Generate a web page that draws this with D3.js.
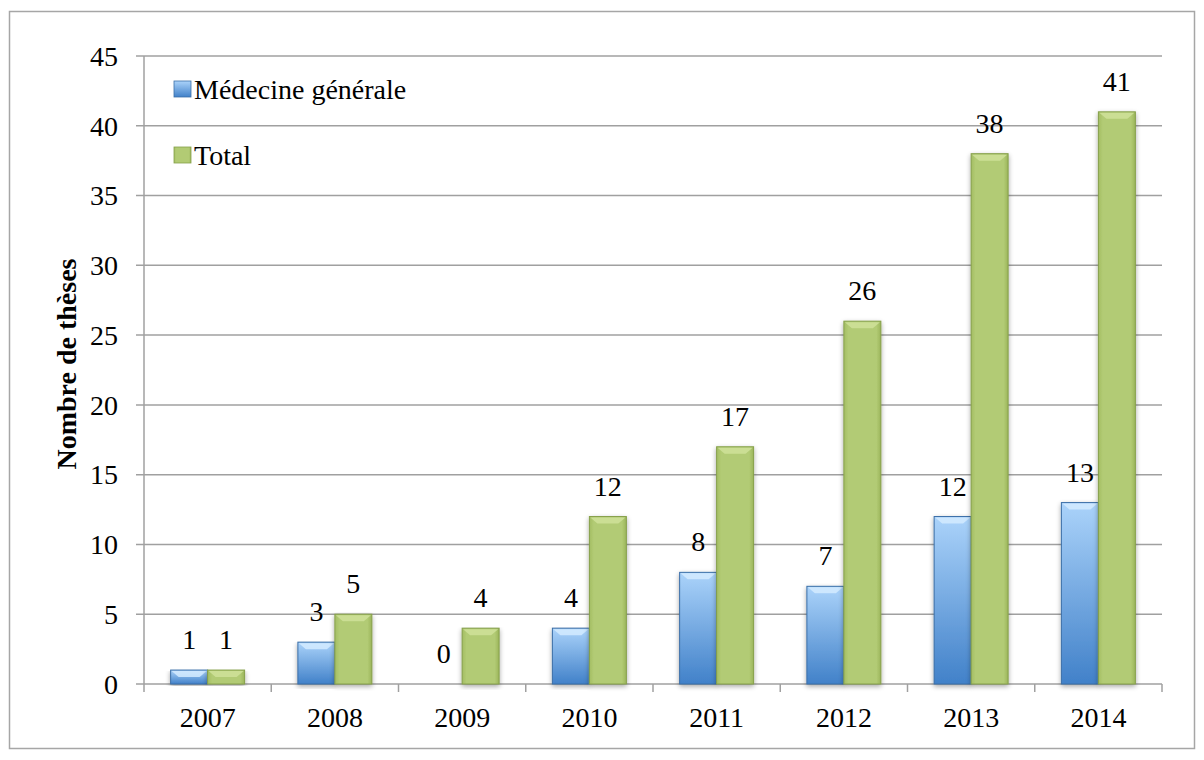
<!DOCTYPE html>
<html>
<head>
<meta charset="utf-8">
<script src="https://cdn.jsdelivr.net/npm/d3@7"></script>
<style>
  body { margin: 0; background: #fff; }
  svg { display: block; }
</style>
</head>
<body>
<div id="chart"></div>
<script>
// data
const years = ["2007", "2008", "2009", "2010", "2011", "2012", "2013", "2014"];
const series = ["Médecine générale", "Total"];
const medecineValues = [1, 3, 0, 4, 8, 7, 12, 13];
const totalValues = [1, 5, 4, 12, 17, 26, 38, 41];
const yTicks = [0, 5, 10, 15, 20, 25, 30, 35, 40, 45];

const width = 1204;
const height = 760;
const margin = { top: 56, right: 42, bottom: 76, left: 144 };
const font = "'Liberation Serif', 'Times New Roman', serif";
const fontSize = "28px";

const svg = d3.select("#chart")
    .append("svg")
    .attr("width", width)
    .attr("height", height);

const defs = svg.append("defs");

// gradients for the bars (Excel style)
const blueGrad = defs.append("linearGradient")
    .attr("id", "blueGrad")
    .attr("x1", 0).attr("y1", 0).attr("x2", 0).attr("y2", 1);
blueGrad.append("stop").attr("offset", "0%").attr("stop-color", "#abd3fa");
blueGrad.append("stop").attr("offset", "100%").attr("stop-color", "#4181c9");

const greenGrad = defs.append("linearGradient")
    .attr("id", "greenGrad")
    .attr("x1", 0).attr("y1", 0).attr("x2", 1).attr("y2", 0);
greenGrad.append("stop").attr("offset", "0%").attr("stop-color", "#a3bd63");
greenGrad.append("stop").attr("offset", "12%").attr("stop-color", "#b2cb74");
greenGrad.append("stop").attr("offset", "88%").attr("stop-color", "#b2cb74");
greenGrad.append("stop").attr("offset", "100%").attr("stop-color", "#9bb55b");

const shadow = defs.append("filter")
    .attr("id", "shadow")
    .attr("x", "-20%").attr("y", "-5%").attr("width", "140%").attr("height", "115%");
shadow.append("feGaussianBlur").attr("in", "SourceAlpha").attr("stdDeviation", 2.5);
shadow.append("feOffset").attr("dx", 0).attr("dy", 2).attr("result", "blur");
shadow.append("feComponentTransfer").append("feFuncA").attr("type", "linear").attr("slope", 0.35);
const merge = shadow.append("feMerge");
merge.append("feMergeNode");
merge.append("feMergeNode").attr("in", "SourceGraphic");

// outer frame
svg.append("rect")
    .attr("x", 9.5).attr("y", 11.5)
    .attr("width", 1185).attr("height", 737)
    .attr("fill", "none")
    .attr("stroke", "#a6a6a6")
    .attr("stroke-width", 1.5);

// scales
const x = d3.scaleBand()
    .domain(years)
    .range([margin.left, width - margin.right]);

const xSub = d3.scaleBand()
    .domain(series)
    .range([0, x.bandwidth()])
    .paddingInner(0)
    .paddingOuter(0.72);

const y = d3.scaleLinear()
    .domain([0, 45])
    .range([height - margin.bottom, margin.top]);

// gridlines
svg.append("g")
    .selectAll("line")
    .data(yTicks)
    .join("line")
    .attr("x1", margin.left - 8)
    .attr("x2", width - margin.right)
    .attr("y1", d => y(d))
    .attr("y2", d => y(d))
    .attr("stroke", "#a0a0a0")
    .attr("stroke-width", 1.5);

// y axis line
svg.append("line")
    .attr("x1", margin.left).attr("x2", margin.left)
    .attr("y1", y(45)).attr("y2", y(0))
    .attr("stroke", "#a0a0a0")
    .attr("stroke-width", 1.5);

// y tick labels
svg.append("g")
    .selectAll("text")
    .data(yTicks)
    .join("text")
    .attr("x", margin.left - 26)
    .attr("y", d => y(d))
    .attr("dy", "0.35em")
    .attr("text-anchor", "end")
    .attr("font-family", font)
    .attr("font-size", fontSize)
    .attr("fill", "#000")
    .text(d => d);

// y axis title
svg.append("text")
    .attr("transform", `translate(76, 364) rotate(-90)`)
    .attr("text-anchor", "middle")
    .attr("font-family", font)
    .attr("font-weight", "bold")
    .attr("font-size", "28px")
    .attr("fill", "#000")
    .text("Nombre de thèses");

// x axis ticks
const boundaries = years.map(d => x(d)).concat([x(years[years.length - 1]) + x.bandwidth()]);
svg.append("g")
    .selectAll("line")
    .data(boundaries)
    .join("line")
    .attr("x1", d => d).attr("x2", d => d)
    .attr("y1", y(0)).attr("y2", y(0) + 8)
    .attr("stroke", "#a0a0a0")
    .attr("stroke-width", 1.5);

svg.append("g")
    .selectAll("text")
    .data(years)
    .join("text")
    .attr("x", d => x(d) + x.bandwidth() / 2)
    .attr("y", y(0) + 43)
    .attr("text-anchor", "middle")
    .attr("font-family", font)
    .attr("font-size", fontSize)
    .attr("fill", "#000")
    .text(d => d);

// bars
const rows = years.map((yr, i) => ({ year: yr, values: [medecineValues[i], totalValues[i]] }));
const fills = ["url(#blueGrad)", "url(#greenGrad)"];
const strokes = ["#3b6fa8", "#86a04a"];
const bevelColors = ["#d4ebff", "#cfe29a"];

const groups = svg.append("g")
    .selectAll("g")
    .data(rows)
    .join("g")
    .attr("transform", d => `translate(${x(d.year)},0)`);

groups.each(function (d) {
    const g = d3.select(this);
    d.values.forEach((v, j) => {
        const bx = xSub(series[j]);
        const bw = xSub.bandwidth();
        const top = y(v);
        const h = y(0) - top;
        if (h > 0) {
            const bar = g.append("g").attr("filter", "url(#shadow)");
            bar.append("rect")
                .attr("x", bx)
                .attr("y", top)
                .attr("width", bw)
                .attr("height", h)
                .attr("fill", fills[j])
                .attr("stroke", strokes[j])
                .attr("stroke-width", 1);
            const bev = Math.min(7, h / 2);
            bar.append("path")
                .attr("d", `M${bx + 1},${top + 1} L${bx + bw - 1},${top + 1} L${bx + bw - 1 - bev},${top + bev} L${bx + 1 + bev},${top + bev} Z`)
                .attr("fill", bevelColors[j])
                .attr("opacity", 0.85);
        }
        g.append("text")
            .attr("x", bx + bw / 2)
            .attr("y", top - 21)
            .attr("text-anchor", "middle")
            .attr("font-family", font)
            .attr("font-size", fontSize)
            .attr("fill", "#000")
            .text(v);
    });
});

// legend
const legend = svg.append("g")
    .attr("transform", "translate(174, 89)");

series.forEach((s, i) => {
    const row = legend.append("g")
        .attr("transform", `translate(0, ${i * 66})`);
    row.append("rect")
        .attr("x", 0).attr("y", -8)
        .attr("width", 17).attr("height", 16)
        .attr("fill", fills[i])
        .attr("stroke", strokes[i])
        .attr("stroke-width", 0.8);
    row.append("text")
        .attr("x", 20)
        .attr("y", 0)
        .attr("dy", "0.35em")
        .attr("font-family", font)
        .attr("font-size", fontSize)
        .attr("fill", "#000")
        .text(s);
});
</script>
</body>
</html>
